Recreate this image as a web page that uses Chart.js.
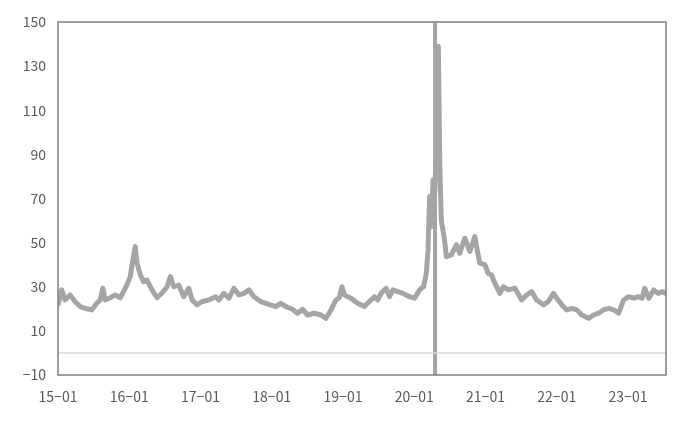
<!DOCTYPE html>
<html>
<head>
<meta charset="utf-8">
<script src="https://cdn.jsdelivr.net/npm/chart.js@4"></script>
<style>
  html, body { margin: 0; padding: 0; background: #ffffff; }
  #wrap { width: 688px; height: 424px; }
</style>
</head>
<body>
<div id="wrap"><canvas id="c" width="688" height="424"></canvas></div>
<script>
// months since 2015-01
const months = [
  0.0, 0.63, 1.18, 2.03, 2.87, 3.72, 4.85, 5.70, 6.54, 7.10, 7.55, 7.94, 8.79, 9.63, 10.48, 11.04, 11.61,
  12.17, 12.56, 13.01, 13.30, 13.86, 14.42, 14.99, 15.84, 16.68, 17.53, 18.37, 18.93, 19.49, 20.33, 21.18,
  22.02, 22.60, 23.44, 24.29, 25.40, 26.54, 27.09, 27.94, 28.78, 29.63, 30.47, 31.32, 32.16, 33.01, 34.14,
  35.27, 36.68, 37.52, 38.37, 39.50, 40.34, 41.19, 42.03, 43.15, 44.28, 45.13, 45.97, 46.82, 47.37, 47.83,
  48.22, 49.35, 50.48, 51.60, 52.44, 53.29, 53.86, 54.42, 55.27, 55.83, 56.40, 57.24, 58.09, 59.21, 60.05,
  60.90, 61.57, 62.03, 62.32, 62.59, 62.87, 63.16, 63.43, 63.72, 64.06, 64.30, 64.56, 65.12, 65.41, 66.25,
  67.10, 67.66, 68.51, 69.35, 70.20, 70.65, 71.04, 71.89, 72.46, 73.01, 73.58, 74.42, 75.00, 75.84, 76.96,
  78.09, 78.93, 79.77, 80.62, 81.75, 82.60, 83.44, 84.00, 84.85, 85.69, 86.54, 87.38, 88.23, 89.36, 90.20,
  91.05, 91.89, 92.74, 93.58, 94.43, 95.27, 96.12, 96.96, 97.81, 98.37, 98.82, 99.50, 100.34, 101.07, 101.75, 102.4
];
const values = [
  22, 28.6, 24, 26.3, 23.3, 21, 20, 19.5, 22.6, 24, 29.4, 24, 25, 26.3, 25, 27.8, 30.8,
  34.6, 41.4, 48.2, 40.8, 35.4, 32.3, 33, 28.6, 25, 27.2, 30, 34.6, 30, 30.8, 25.5,
  29.3, 24, 21.8, 23.3, 24, 25.5, 24, 27, 24.8, 29.3, 26.3, 27, 28.6, 25.5, 23.3,
  22.2, 21, 22.5, 21, 19.8, 18, 19.8, 17.2, 18, 17.2, 15.7, 19.5, 24, 25, 30,
  26.3, 24.8, 22.5, 21, 23.3, 25.5, 24, 27, 29.3, 25.5, 28.6, 27.8, 27, 25.5, 24.8,
  28.6, 30, 36, 46.7, 70.9, 57.2, 78.4, 72.5, 92, 139, 85, 60, 51, 43.6, 44.4,
  49, 45.2, 52, 46, 52.7, 46, 40.7, 40, 36, 35.4, 31.6, 27, 30, 28.6, 29.3,
  24, 26.3, 27.8, 24, 21.8, 23.3, 27, 24.8, 21.8, 19.5, 20.2, 19.5, 17.2, 15.7, 17.2,
  18, 19.5, 20.2, 19.5, 18, 24, 25.5, 24.8, 25.5, 24.8, 29.3, 24.8, 28.6, 27, 27.8, 27
];
// vertical marker (month offset of the marked date)
const markerMonth = [63.5, 63.5];
const markerValues = [-10, 150];
// zero reference line
const zeroMonths = [0, 102.4];
const zeroValues = [0, 0];

const tickMonths = [0, 12, 24, 36, 48, 60, 72, 84, 96];
const tickLabels = ['15-01', '16-01', '17-01', '18-01', '19-01', '20-01', '21-01', '22-01', '23-01'];
const yTicks = [-10, 10, 30, 50, 70, 90, 110, 130, 150];

const toXY = (xs, ys) => xs.map((x, i) => ({ x: x, y: ys[i] }));

const boxPlugin = {
  id: 'box',
  afterDraw(chart) {
    const a = chart.chartArea, ctx = chart.ctx;
    ctx.save();
    ctx.strokeStyle = '#7f7f7f';
    ctx.lineWidth = 1.5;
    ctx.strokeRect(a.left, a.top, a.right - a.left, a.bottom - a.top);
    ctx.restore();
  }
};

const fontSpec = { family: "'Noto Sans CJK KR', 'Liberation Sans', sans-serif", size: 14 };

new Chart(document.getElementById('c'), {
  type: 'line',
  data: {
    datasets: [
      { data: toXY(zeroMonths, zeroValues), borderColor: '#d9d9d9', borderWidth: 1.5, pointRadius: 0 },
      { data: toXY(months, values), borderColor: '#a5a5a5', borderWidth: 5, pointRadius: 0, tension: 0, borderJoinStyle: 'round', borderCapStyle: 'round' },
      { data: toXY(markerMonth, markerValues), borderColor: '#a5a5a5', borderWidth: 4, pointRadius: 0 }
    ]
  },
  options: {
    responsive: false,
    animation: false,
    layout: { padding: { left: 0, top: 22, right: 22, bottom: 0 } },
    plugins: { legend: { display: false }, tooltip: { enabled: false } },
    scales: {
      x: {
        type: 'linear', min: 0, max: 102.4,
        grid: { display: false, drawTicks: false },
        border: { display: false },
        afterBuildTicks: (s) => { s.ticks = tickMonths.map(v => ({ value: v })); },
        afterFit: (s) => { s.height = 49; },
        ticks: {
          autoSkip: false, maxRotation: 0, padding: 13, color: '#595959', font: fontSpec,
          callback: (v) => { const i = tickMonths.indexOf(v); return i >= 0 ? tickLabels[i].replace('-', '\u2212') : ''; }
        }
      },
      y: {
        type: 'linear', min: -10, max: 150,
        grid: { display: false, drawTicks: false },
        border: { display: false },
        afterBuildTicks: (s) => { s.ticks = yTicks.map(v => ({ value: v })); },
        afterFit: (s) => { s.width = 58; },
        ticks: {
          padding: 12, color: '#595959', font: fontSpec,
          callback: (v) => String(v).replace('-', '\u2212')
        }
      }
    }
  },
  plugins: [boxPlugin]
});
</script>
</body>
</html>
